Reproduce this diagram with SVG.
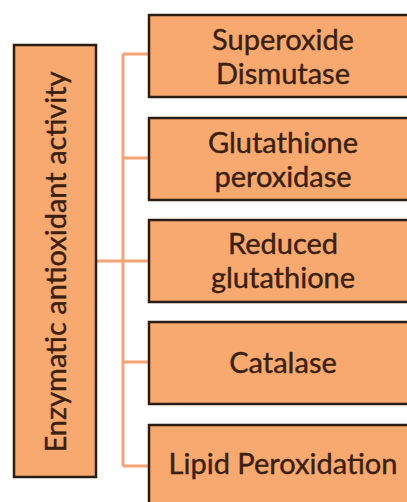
<svg xmlns="http://www.w3.org/2000/svg" width="407" height="502" viewBox="0 0 407 502">
<style>
.box{fill:#F7A96F;stroke:#2b1d14;stroke-width:2.5}
.t{font-family:Lato,"Open Sans","Liberation Sans",sans-serif;font-size:29px;fill:#3b1f10;stroke:#3b1f10;stroke-width:0.4;text-anchor:middle}
.c{stroke:#F2A474;stroke-width:3;fill:none}
</style>
<rect width="407" height="502" fill="#fff"/>
<g id="connectors">
<path class="c" d="M96 261H149M123 54V466M123 54H149M123 158H149M123 362H149M123 466H149"/>
</g>
<g id="root">
<rect class="box" x="14" y="45" width="82" height="432"/>
<text class="t" transform="translate(66 262) rotate(-90)">Enzymatic antioxidant activity</text>
</g>
<g id="n1">
<rect class="box" x="149" y="15" width="270" height="82"/>
<text class="t" x="283" y="50">Superoxide</text>
<text class="t" x="283" y="84">Dismutase</text>
</g>
<g id="n2">
<rect class="box" x="149" y="118" width="270" height="82"/>
<text class="t" x="283" y="153">Glutathione</text>
<text class="t" x="283" y="187">peroxidase</text>
</g>
<g id="n3">
<rect class="box" x="149" y="220" width="270" height="82"/>
<text class="t" x="283" y="254">Reduced</text>
<text class="t" x="283" y="288">glutathione</text>
</g>
<g id="n4">
<rect class="box" x="149" y="322" width="270" height="82"/>
<text class="t" x="283" y="373">Catalase</text>
</g>
<g id="n5">
<rect class="box" x="149" y="425" width="270" height="90"/>
<text class="t" x="283" y="474">Lipid Peroxidation</text>
</g>
</svg>
